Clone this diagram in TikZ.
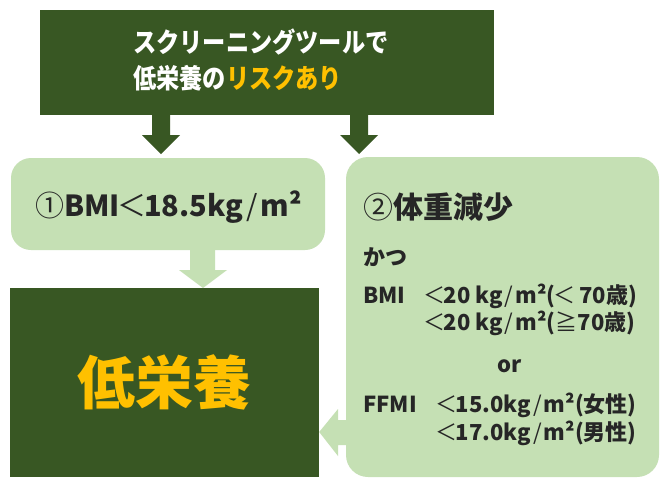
\documentclass[tikz,border=0pt]{standalone}
\usepackage{graphicx}
\usepackage{fontspec}
\setmainfont{Noto Sans CJK JP}
\usetikzlibrary{calc}
\definecolor{dk}{HTML}{385723}
\definecolor{lt}{HTML}{C5E0B4}
\definecolor{yl}{HTML}{FFC000}
\definecolor{tx}{HTML}{262626}
\newcommand{\ltsign}{{\mdseries\kern-0.08em＜\kern-0.08em}}
\newcommand{\slsign}{{\mdseries\kern0.1em/\kern0.1em}}
\tikzset{
  darkbox/.style={fill=dk, inner sep=0pt, draw=none},
  lightbox/.style={fill=lt, inner sep=0pt, draw=none},
  toptext/.style={anchor=base west, inner sep=0pt, text=white, font=\fontsize{27}{29}\selectfont\bfseries},
  boxtext/.style={anchor=base west, inner sep=0pt, text=tx, font=\fontsize{22}{25}\selectfont\bfseries},
  headtext/.style={anchor=base west, inner sep=0pt, text=tx, font=\fontsize{29}{32}\selectfont\bfseries},
}
\begin{document}
\begin{tikzpicture}[x=1pt,y=-1pt]
\useasboundingbox (0,0) rectangle (660,477);
\fill[white] (0,0) rectangle (660,477);
% boxes
\node[darkbox, minimum width=454pt, minimum height=105pt] (top) at (267,62.5) {};
\node[lightbox, rounded corners=20pt, minimum width=314pt, minimum height=92pt] (b1) at (168,204) {};
\node[lightbox, rounded corners=22pt, minimum width=313pt, minimum height=320pt] (b2) at (502.5,317) {};
\node[darkbox, minimum width=309pt, minimum height=189pt, text=yl, font=\fontsize{58}{62}\selectfont\bfseries] (low) at (164.5,382.5) {低栄養};
% top text
\node[toptext] (t1) at (133,52) {\scalebox{0.86}[1]{スクリーニングツールで}};
\node[toptext] (t2) at (133,88) {\scalebox{0.86}[1]{低栄養の\textcolor{yl}{リスクあり}}};
% box 1 text
\node[headtext] (h1) at (35,216) {{\mdseries ①}BMI\ltsign 18.5kg\slsign m²};
% box 2 text
\node[headtext, font=\fontsize{30}{32}\selectfont\bfseries] (h2) at (363,218) {{\mdseries ②}体重減少};
\node[boxtext] (k) at (363,265) {かつ};
\node[boxtext] (bmi) at (363,303) {BMI};
\node[boxtext] (bmi1) at (425,303) {\ltsign 20 kg\slsign m²(\ltsign\ 70歳)};
\node[boxtext] (bmi2) at (425,330) {\ltsign 20 kg\slsign m²({\mdseries ≧}70歳)};
\node[boxtext, anchor=base] (or) at (510,372) {or};
\node[boxtext] (ffmi) at (363,412) {FFMI};
\node[boxtext] (ff1) at (437,412) {\ltsign 15.0kg\slsign m²(女性)};
\node[boxtext] (ff2) at (437,440) {\ltsign 17.0kg\slsign m²(男性)};
% arrows
\fill[dk] (top.south -| 152,0) -- (top.south -| 170,0) -- (170,135) -- (180,135) -- (161,154) -- (142,135) -- (152,135) -- cycle;
\fill[dk] (top.south -| 350,0) -- (top.south -| 368,0) -- (368,135) -- (378,135) -- (359,154) -- (340,135) -- (350,135) -- cycle;
\fill[lt] (b1.south -| 190,0) -- (b1.south -| 215,0) -- (215,270) -- (227,270) -- (203,288) -- (179,270) -- (190,270) -- cycle;
\fill[lt] (b2.west |- 0,420) -- (338,420) -- (338,409) -- (low.east |- 0,432) -- (338,456) -- (338,445) -- (b2.west |- 0,445) -- cycle;
\end{tikzpicture}
\end{document}
